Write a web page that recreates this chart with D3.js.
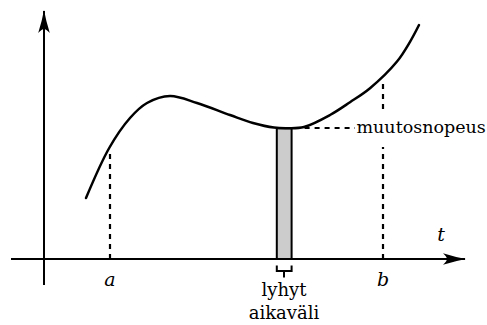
<!DOCTYPE html>
<html lang="fi">
<head>
    <meta charset="UTF-8">
    <title>Muutosnopeus</title>
    <script src="https://cdn.jsdelivr.net/npm/d3@7/dist/d3.min.js"></script>
    <style>
        body { margin: 0; padding: 0; background: #fff; }
        .curve { fill: none; stroke: #000; stroke-width: 2.5; stroke-linecap: round; }
        .axis { stroke: #000; stroke-width: 2; fill: none; }
        .dash { stroke: #000; stroke-width: 2.2; stroke-dasharray: 5 5; fill: none; }
        .bar { fill: #cccccc; stroke: #000; stroke-width: 2; }
    </style>
</head>
<body>
<svg width="487" height="325"></svg>
<script>
    // käyrän pisteet (t, arvo)
    var curveT = [10.5, 16.3, 21.5, 25.75, 31.5, 38.25, 46.5, 52.25, 57.5, 61, 65, 71.5, 76.5, 81.5, 88.2, 91.5, 93.75];
    var curveY = [15.25, 27.75, 35.25, 39, 40.75, 39, 36, 34, 32.85, 32.7, 33, 36, 39.2, 42.7, 49.3, 54.3, 58.5];
    // merkityt kohdat a ja b
    var markT = [16.5, 84.75];
    var markValue = [27.5, 43.75];
    var markLabels = ['a', 'b'];
    // lyhyt aikaväli
    var barT = [58.2, 61.9];
    var rateValue = 32.7;
    // akselit
    var xAxisExtent = [-8.25, 105.75];
    var yAxisExtent = [-6.5, 62.5];

    var serif = "'DejaVu Serif', serif";

    var svg = d3.select('svg');
    var x = d3.scaleLinear().domain([0, 100]).range([44, 444]);
    var y = d3.scaleLinear().domain([0, 50]).range([259, 59]);

    var defs = svg.append('defs');
    defs.append('marker')
        .attr('id', 'arrow')
        .attr('markerUnits', 'userSpaceOnUse')
        .attr('viewBox', '-24 -7 26 14')
        .attr('refX', 0).attr('refY', 0)
        .attr('markerWidth', 26).attr('markerHeight', 14)
        .attr('orient', 'auto')
        .append('path')
        .attr('d', 'M1,0 Q-10,-2 -22,-5.8 Q-18,-2 -18,0 Q-18,2 -22,5.8 Q-10,2 1,0 Z')
        .attr('fill', '#000');

    // katkoviivat a ja b
    svg.selectAll('.mark')
        .data(markT)
        .enter().append('line')
        .attr('class', 'dash')
        .attr('x1', function(d) { return Math.round(x(d)); })
        .attr('x2', function(d) { return Math.round(x(d)); })
        .attr('y1', y(0))
        .attr('y2', function(d, i) { return y(markValue[i]); });

    // vaakasuora katkoviiva
    svg.append('line')
        .attr('class', 'dash')
        .attr('x1', x(barT[1]) + 3)
        .attr('x2', 355)
        .attr('y1', Math.round(y(rateValue)))
        .attr('y2', Math.round(y(rateValue)));

    // pylväs
    svg.append('rect')
        .attr('class', 'bar')
        .attr('x', x(barT[0]))
        .attr('y', y(rateValue))
        .attr('width', x(barT[1]) - x(barT[0]))
        .attr('height', y(0) - y(rateValue));

    // käyrä
    var line = d3.line()
        .x(function(d) { return x(d[0]); })
        .y(function(d) { return y(d[1]); })
        .curve(d3.curveCatmullRom.alpha(0.5));
    svg.append('path')
        .attr('class', 'curve')
        .attr('d', line(d3.zip(curveT, curveY)));

    // akselit
    svg.append('line')
        .attr('class', 'axis')
        .attr('x1', x(xAxisExtent[0])).attr('x2', x(xAxisExtent[1]) - 2)
        .attr('y1', y(0)).attr('y2', y(0))
        .attr('marker-end', 'url(#arrow)');
    svg.append('line')
        .attr('class', 'axis')
        .attr('x1', x(0)).attr('x2', x(0))
        .attr('y1', y(yAxisExtent[0])).attr('y2', y(yAxisExtent[1]) + 2)
        .attr('marker-end', 'url(#arrow)');

    // sulku pylvään alla
    var bx0 = x(barT[0]), bx1 = x(barT[1]), bxm = Math.round((bx0 + bx1) / 2);
    svg.append('path')
        .attr('class', 'axis')
        .attr('d', 'M' + bx0 + ',265.5 V271 H' + bx1 + ' V265.5 M' + bxm + ',271 V277.5');

    // tekstit
    svg.selectAll('.markLabel')
        .data(markLabels)
        .enter().append('text')
        .attr('x', function(d, i) { return x(markT[i]); })
        .attr('y', 285.5)
        .attr('text-anchor', 'middle')
        .attr('font-family', serif)
        .attr('font-style', 'italic')
        .attr('font-size', 19)
        .text(function(d) { return d; });

    svg.append('text')
        .attr('x', 441)
        .attr('y', 241)
        .attr('text-anchor', 'middle')
        .attr('font-family', serif)
        .attr('font-style', 'italic')
        .attr('font-size', 19)
        .text('t');

    svg.append('rect')
        .attr('x', 355).attr('y', 111)
        .attr('width', 132).attr('height', 36)
        .attr('fill', '#fff');
    svg.append('text')
        .attr('x', 356.5)
        .attr('y', 133)
        .attr('font-family', serif)
        .attr('font-size', 17.5)
        .text('muutosnopeus');

    svg.append('text')
        .attr('x', bxm)
        .attr('y', 295.5)
        .attr('text-anchor', 'middle')
        .attr('font-family', serif)
        .attr('font-size', 18)
        .text('lyhyt');
    svg.append('text')
        .attr('x', bxm)
        .attr('y', 318.5)
        .attr('text-anchor', 'middle')
        .attr('font-family', serif)
        .attr('font-size', 18)
        .text('aikaväli');
</script>
</body>
</html>
